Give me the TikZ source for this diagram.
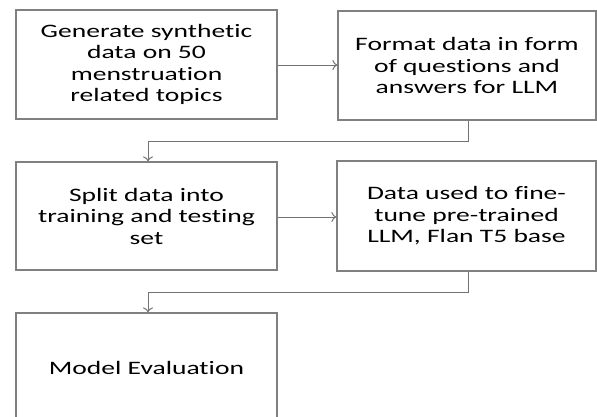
\documentclass[tikz,border=0pt]{standalone}
\usepackage{fontspec}
\setmainfont{Carlito}
\newfontfamily\boxfont[FakeStretch=1.45,Ligatures=NoCommon]{Carlito}
\usetikzlibrary{arrows.meta}
\begin{document}
\begin{tikzpicture}[x=1pt,y=-1pt,
  stepbox/.style={draw=black!50, line width=1.2pt, fill=white, inner sep=0pt,
    align=center, font=\boxfont\fontsize{19}{21.5}\selectfont, text=black},
  link/.style={draw=black!55, line width=1pt, -{To[length=5pt,width=10pt]}}]
  \useasboundingbox (0,0) rectangle (597,416);
  \begin{scope}
    \clip (0,0) rectangle (597,416);
    % five process boxes
    \node[stepbox, minimum width=261pt, minimum height=109pt] (gen) at (146.5,64.5)
      {Generate synthetic\\data on 50\\menstruation\\related topics};
    \node[stepbox, minimum width=258pt, minimum height=109pt] (fmt) at (467,65.5)
      {Format data in form\\of questions and\\answers for LLM};
    \node[stepbox, minimum width=261pt, minimum height=108pt] (split) at (146.5,216)
      {Split data into\\training and testing\\set};
    \node[stepbox, minimum width=259pt, minimum height=110pt] (tune) at (466.5,216)
      {Data used to fine-\\tune pre-trained\\LLM, Flan T5 base};
    \node[stepbox, minimum width=261pt, minimum height=110pt] (eval) at (146.5,368)
      {Model Evaluation};
    % connectors
    \draw[link] (gen.east |- 0,65) -- (fmt.west |- 0,65);
    \draw[link] (split.east |- 0,217) -- (tune.west |- 0,217);
    \coordinate (b1) at (468,141);
    \coordinate (b2) at (468,292);
    \draw[link] (fmt.south -| b1) -- (b1) -- (b1 -| 148,0) -- (split.north -| 148,0);
    \draw[link] (tune.south -| b2) -- (b2) -- (b2 -| 148,0) -- (eval.north -| 148,0);
  \end{scope}
\end{tikzpicture}
\end{document}
